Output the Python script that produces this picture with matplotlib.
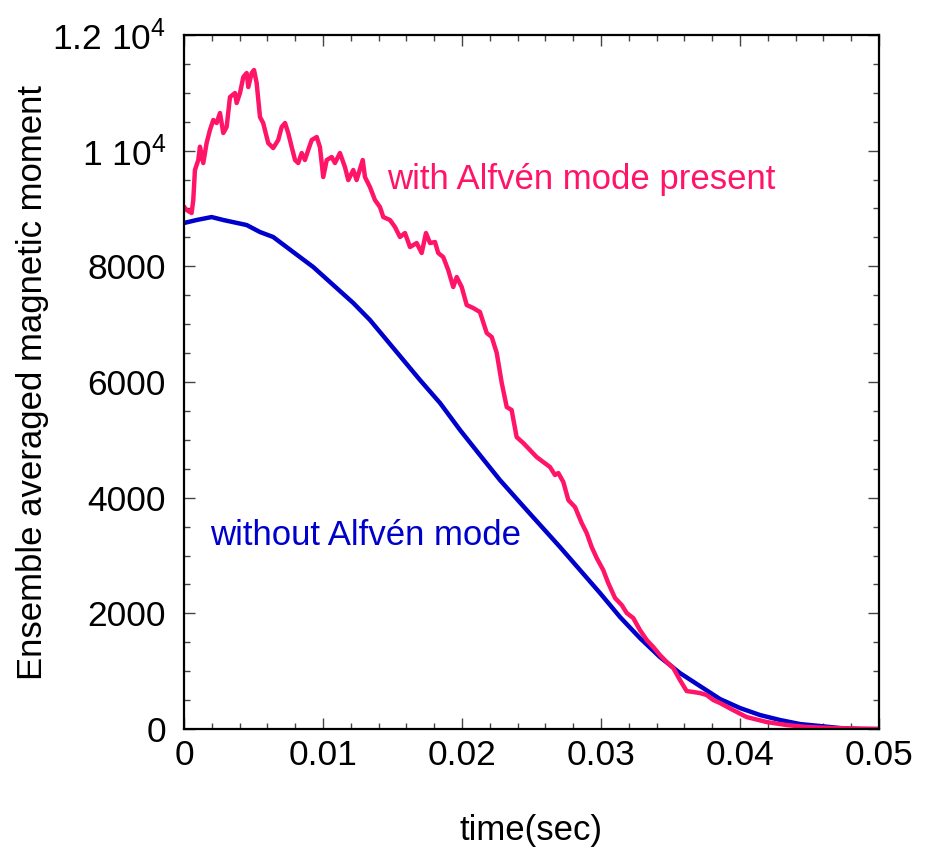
import matplotlib
matplotlib.use("Agg")
import matplotlib.pyplot as plt
from matplotlib.ticker import MultipleLocator

plt.rcParams['font.family'] = ['Liberation Sans', 'DejaVu Sans']
plt.rcParams['mathtext.fontset'] = 'custom'
plt.rcParams['mathtext.rm'] = 'Liberation Sans'
plt.rcParams['mathtext.it'] = 'Liberation Sans:italic'

# with Alfven mode present
t_with = [0.0, 0.00019, 0.00055, 0.00067, 0.00079, 0.00103, 0.00115, 0.00139, 0.00163, 0.00187,
          0.00211, 0.00235, 0.00259, 0.00283, 0.00307, 0.00331, 0.00367, 0.00379, 0.00403, 0.00427,
          0.00451, 0.00463, 0.00487, 0.00504, 0.00523, 0.00547, 0.00570, 0.00606, 0.00642, 0.00678,
          0.00703, 0.00727, 0.00750, 0.00775, 0.00799, 0.00822, 0.00847, 0.00870, 0.00894, 0.00919,
          0.00955, 0.00978, 0.01002, 0.01027, 0.01063, 0.01086, 0.01122, 0.01158, 0.01182, 0.01218,
          0.01242, 0.01286, 0.01302, 0.01338, 0.01374, 0.01410, 0.01434, 0.01482, 0.01518, 0.01554,
          0.01590, 0.01626, 0.01674, 0.01710, 0.01741, 0.01770, 0.01806, 0.01829, 0.01865, 0.01901,
          0.01937, 0.01962, 0.01998, 0.02034, 0.02081, 0.02129, 0.02178, 0.02214, 0.02250, 0.02286,
          0.02322, 0.02357, 0.02393, 0.02441, 0.02489, 0.02537, 0.02585, 0.02633, 0.02669, 0.02693,
          0.02729, 0.02765, 0.02813, 0.02861, 0.02897, 0.02933, 0.02969, 0.03016, 0.03052, 0.03101,
          0.03149, 0.03185, 0.03232, 0.03280, 0.03329, 0.03376, 0.03424, 0.03473, 0.03520, 0.03568,
          0.03616, 0.03664, 0.03712, 0.03760, 0.03808, 0.03856, 0.03949, 0.04048, 0.04192, 0.04336,
          0.04480, 0.04669, 0.05]
m_with = [9031, 8974, 8922, 9146, 9665, 9838, 10068, 9786, 10132, 10357,
          10530, 10478, 10651, 10305, 10409, 10927, 10996, 10824, 10996, 11273,
          11342, 11100, 11342, 11394, 11169, 10581, 10478, 10132, 10045, 10184,
          10409, 10478, 10305, 10063, 9838, 9786, 9959, 9838, 10011, 10184,
          10236, 10063, 9544, 9838, 9890, 9786, 9959, 9717, 9492, 9665,
          9492, 9838, 9544, 9371, 9146, 9025, 8852, 8801, 8680, 8507,
          8576, 8334, 8403, 8230, 8576, 8403, 8420, 8230, 8161, 7936,
          7642, 7815, 7642, 7331, 7279, 7210, 6847, 6778, 6501, 5982,
          5567, 5516, 5049, 4945, 4824, 4703, 4616, 4530, 4392, 4426,
          4271, 3959, 3838, 3562, 3389, 3147, 2957, 2749, 2524, 2265,
          2144, 2006, 1919, 1712, 1539, 1418, 1279, 1158, 1055, 847,
          657, 640, 622, 588, 501, 450, 329, 207, 121, 69,
          35, 17, 0]

# without Alfven mode
t_without = [0.0, 0.00091, 0.00199, 0.00283, 0.00451, 0.00547, 0.00642, 0.00786, 0.00930, 0.01074,
             0.01218, 0.01338, 0.01458, 0.01578, 0.01698, 0.01842, 0.01986, 0.02129, 0.02273, 0.02465,
             0.02705, 0.02849, 0.02993, 0.03137, 0.03280, 0.03424, 0.03568, 0.03712, 0.03856, 0.04000,
             0.04144, 0.04288, 0.04432, 0.04576, 0.04719, 0.04863, 0.05]
m_without = [8749, 8801, 8852, 8801, 8714, 8593, 8507, 8247, 7988, 7677,
             7366, 7072, 6726, 6380, 6034, 5637, 5170, 4737, 4305, 3787,
             3147, 2749, 2351, 1936, 1573, 1245, 968, 743, 519, 363,
             242, 156, 86, 52, 17, 0, 0]

x_ticks = [0, 0.01, 0.02, 0.03, 0.04, 0.05]
x_ticklabels = ['0', '0.01', '0.02', '0.03', '0.04', '0.05']
y_ticks = [0, 2000, 4000, 6000, 8000, 10000, 12000]
y_ticklabels = ['0', '2000', '4000', '6000', '8000', '1 10$^{4}$', '1.2 10$^{4}$']

red = '#FF1468'
blue = '#0000CC'

fig = plt.figure(figsize=(9.3, 8.49), dpi=100)
ax = fig.add_axes([0.1978, 0.1413, 0.9452 - 0.1978, 0.9588 - 0.1413])

ax.plot(t_without, m_without, color=blue, lw=3.2, solid_joinstyle='round')
ax.plot(t_with, m_with, color=red, lw=3.2, solid_joinstyle='round')

ax.set_xlim(0, 0.05)
ax.set_ylim(0, 12000)
ax.set_xticks(x_ticks)
ax.set_xticklabels(x_ticklabels)
ax.set_yticks(y_ticks)
ax.set_yticklabels(y_ticklabels)
ax.xaxis.set_minor_locator(MultipleLocator(0.002))
ax.yaxis.set_minor_locator(MultipleLocator(500))
ax.tick_params(which='both', direction='in', top=True, right=True, labelsize=25.5, color='#444444')
ax.tick_params(which='major', length=8, width=1.0)
ax.tick_params(which='minor', length=4.5, width=1.0)
ax.tick_params(axis='x', pad=7)
ax.tick_params(axis='y', pad=13)
for s in ax.spines.values():
    s.set_linewidth(1.6)

ax.set_xlabel('time(sec)', fontsize=25)
ax.set_ylabel('Ensemble averaged magnetic moment', fontsize=25)
ax.xaxis.set_label_coords(0.5, -0.123)
ax.yaxis.set_label_coords(-0.194, 0.5)

ax.text(0.0146, 9500, 'with Alfvén mode present', color=red, fontsize=25, va='center', ha='left')
ax.text(0.0019, 3340, 'without Alfvén mode', color=blue, fontsize=25, va='center', ha='left')

fig.savefig('out.png', dpi=100)
